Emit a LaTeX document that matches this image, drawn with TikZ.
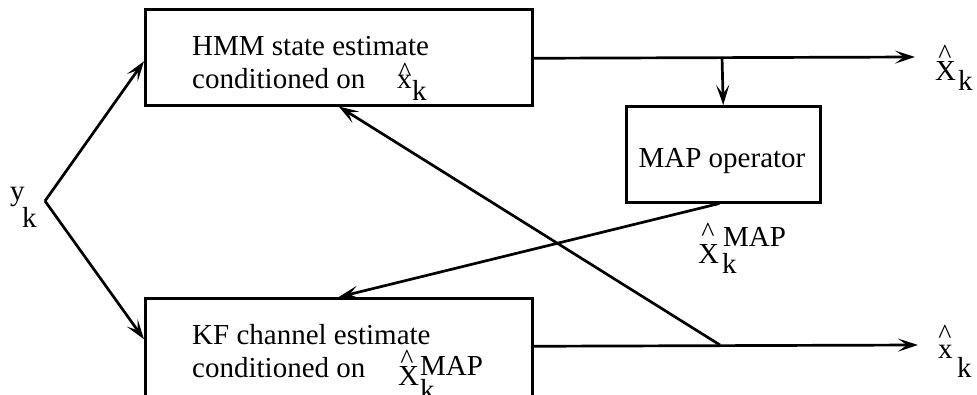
\documentclass[tikz,border=0pt]{standalone}
\usepackage{fontspec}
\setmainfont{Liberation Serif}
\usetikzlibrary{arrows.meta}
\begin{document}
\begin{tikzpicture}[x=1pt,y=-1pt,
  box/.style={draw, line width=2.5pt, inner sep=0pt},
  conn/.style={line width=2.7pt, -{Stealth[length=20pt,width=13pt,inset=9pt]}},
  txt/.style={inner sep=0pt, anchor=base west, font=\fontsize{29}{33}\selectfont},
  caret/.style={inner sep=0pt, anchor=base, font=\fontsize{28}{29}\selectfont},
]
\useasboundingbox (0,0) rectangle (977,394);
\clip (0,0) rectangle (977,394);

% boxes
\node[box, minimum width=387pt, minimum height=96pt, anchor=north west] (hmm) at (144,8) {};
\node[box, minimum width=387pt, minimum height=100pt, anchor=north west] (kf) at (144,297) {};
\node[box, minimum width=194pt, minimum height=96pt, anchor=north west] (map) at (625,105) {};

% box texts
\node[txt] (h1) at (192,55) {HMM state estimate};
\node[txt] (h2) at (192,88) {conditioned on};
\node[txt] (hx) at (397,88) {x};
\node[caret] (hc) at (405,81) {\textasciicircum};
\node[txt] (hk) at (412,100) {k};

\node[txt] (k1) at (192,344) {KF channel estimate};
\node[txt] (k2) at (192,377) {conditioned on};
\node[txt] (kX) at (398,385) {X};
\node[caret] (kc) at (407,368) {\textasciicircum};
\node[txt] (kM) at (420,375) {MAP};
\node[txt] (kk) at (420,399) {k};

\node[inner sep=0pt, anchor=base, font=\fontsize{29}{33}\selectfont] (mt) at (722,167) {MAP operator};

% y_k
\node[txt] (yy) at (10,200) {y};
\node[txt] (yk) at (22,227) {k};
\coordinate (yv) at (45,201);

% output labels
\node[txt] (oX) at (935,80) {X};
\node[caret] (oXc) at (945,63) {\textasciicircum};
\node[txt] (oXk) at (958,90) {k};

\node[txt] (ox) at (938,358) {x};
\node[caret] (oxc) at (945,343) {\textasciicircum};
\node[txt] (oxk) at (957,377) {k};

\node[txt] (mX) at (698,263) {X};
\node[caret] (mXc) at (708,241) {\textasciicircum};
\node[txt] (mM) at (723,246) {MAP};
\node[txt] (mk) at (722,273) {k};

% coordinates
\coordinate (topend) at (915,57);
\coordinate (topbr) at (722,57);
\coordinate (botend) at (918,345);
\coordinate (botbr) at (720,345);

% connectors
\draw[conn] (yv) -- ([yshift=-4pt]hmm.west);
\draw[conn] (yv) -- ([yshift=9pt]kf.west);
\draw[conn] ([yshift=-1pt]hmm.east) -- (topend);
\draw[conn] (topbr) -- (map.north);
\draw[conn] ([xshift=-4pt]map.south) -- (kf.north);
\draw[conn] ([yshift=2pt]kf.east) -- (botend);
\draw[conn] (botbr) -- (hmm.south);
\end{tikzpicture}
\end{document}
